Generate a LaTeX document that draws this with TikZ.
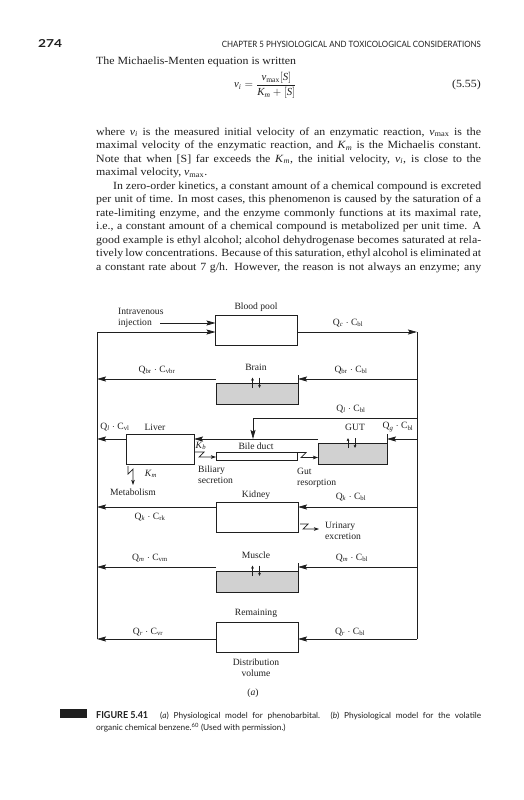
\documentclass[tikz,border=0pt]{standalone}
\usepackage{fontspec}
\usepackage{amsmath}
\setmainfont{Liberation Serif}
\newfontfamily\bodyfont{Liberation Serif}[FakeStretch=1.08]
\newfontfamily\capfont{Lato}
\usetikzlibrary{arrows.meta,calc}
\newcommand{\QdotC}[2]{Q\textsubscript{#1}\kern2.5pt$\cdot$\kern2.5pt C\textsubscript{#2}}
\newcommand{\vsub}[1]{\textit{v}\textsubscript{#1}}
\newcommand{\Km}{\textit{K}\textsubscript{\textit{m}}}
\definecolor{shade}{gray}{0.82}
\definecolor{ink}{gray}{0.12}
\begin{document}
\begin{tikzpicture}[x=1pt,y=-1pt,
  box/.style={draw=ink, line width=0.7pt, inner sep=0pt, outer sep=0pt, minimum width=82pt, minimum height=30pt},
  lbl/.style={inner sep=0pt, font=\fontsize{9.6}{10.8}\selectfont, text=ink},
  ln/.style={draw=ink, line width=0.7pt},
  arr/.style={draw=ink, line width=0.7pt, -{Stealth[length=9pt,width=5pt,inset=1.5pt]}},
  zig/.style={draw=ink, line width=0.7pt, -{Stealth[length=5pt,width=3.5pt,inset=1pt]}},
  ud/.style={draw=ink, line width=0.6pt, -{Stealth[length=3pt,width=2.6pt,inset=0.5pt]}},
  bodyline/.style={anchor=base west, inner sep=0pt, font=\bodyfont\fontsize{11}{13}\selectfont, text=ink},
]
\useasboundingbox (0,0) rectangle (524,800);

% ---------- header ----------
\node[anchor=base west, inner sep=0pt, text=ink] (pagenum) at (38,48)
  {\resizebox{24pt}{8pt}{\capfont\bfseries 274}};
\node[anchor=base east, inner sep=0pt, text=ink] (runhead) at (481,48)
  {\resizebox{259pt}{6.3pt}{\capfont CHAPTER 5 PHYSIOLOGICAL AND TOXICOLOGICAL CONSIDERATIONS}};

% ---------- text ----------
\node[bodyline] (t0) at (96,65) {The Michaelis-Menten equation is written};
\node[anchor=base west, inner sep=0pt, font=\fontsize{10.8}{12}\selectfont, text=ink] (eq) at (234,88)
  {$\textit{v}_{\textit{i}} = \dfrac{\textit{v}_{\textup{max}}[\textit{S}]}{\textit{K}_{\textit{m}}+[\textit{S}]}$};
\node[bodyline, anchor=base east] (eqno) at (481,87) {(5.55)};

\node[bodyline] (p1) at (96,135) {\hbox to 385pt{where \vsub{\textit{i}} is the measured initial velocity of an enzymatic reaction, \vsub{max} is the}};
\node[bodyline] (p2) at (96,148.5) {\hbox to 385pt{maximal velocity of the enzymatic reaction, and \Km{} is the Michaelis constant.}};
\node[bodyline] (p3) at (96,162) {\hbox to 385pt{Note that when [S] far exceeds the \Km, the initial velocity, \vsub{\textit{i}}, is close to the}};
\node[bodyline] (p4) at (96,175.5) {maximal velocity, \vsub{max}.};
\node[bodyline] (p5) at (96,189) {\hbox to 385pt{\hspace*{17pt}In zero-order kinetics, a constant amount of a chemical compound is excreted}};
\node[bodyline] (p6) at (96,202.5) {\hbox to 385pt{per unit of time. In most cases, this phenomenon is caused by the saturation of a}};
\node[bodyline] (p7) at (96,216) {\hbox to 385pt{rate-limiting enzyme, and the enzyme commonly functions at its maximal rate,}};
\node[bodyline] (p8) at (96,229.5) {\hbox to 385pt{i.e., a constant amount of a chemical compound is metabolized per unit time. A}};
\node[bodyline] (p9) at (96,243) {\hbox to 385pt{good example is ethyl alcohol; alcohol dehydrogenase becomes saturated at rela-}};
\node[bodyline] (p10) at (96,256.5) {\hbox to 385pt{tively low concentrations. Because of this saturation, ethyl alcohol is eliminated at}};
\node[bodyline] (p11) at (96,270) {\hbox to 385pt{a constant rate about 7 g/h. However, the reason is not always an enzyme; any}};

% ---------- diagram boxes ----------
\node[box] (blood) at (256.5,330) {};
\node[box, fill=shade, minimum height=29pt] (brain) at (257,389.5) {};
\node[box, minimum width=68pt] (liver) at (160,449) {};
\node[box, minimum width=81pt, minimum height=8pt] (bile) at (256.5,456) {};
\node[box, fill=shade, minimum width=69pt] (gut) at (352.5,449) {};
\node[box] (kidney) at (257,517) {};
\node[box, fill=shade, minimum height=29pt] (muscle) at (257,577.5) {};
\node[box] (remain) at (257,637) {};

% white top strips + dividers of the shaded boxes
\foreach \b/\h in {brain/8, gut/9, muscle/8}{
  \fill[white] ([shift={(0.4,0.4)}]\b.north west) rectangle ([shift={(-0.4,\h)}]\b.north east);
  \draw[ln] ([shift={(0,\h)}]\b.north west) -- ([shift={(0,\h)}]\b.north east);
}

% ---------- main rails ----------
\coordinate (Ltop) at (97,332);
\coordinate (Lbot) at (97,639);
\coordinate (Rtop) at (417,332);
\coordinate (Rbot) at (417,639);
\coordinate (ivstart) at (160,323);
\coordinate (bloodin1) at (blood.west |- ivstart);
\coordinate (bloodin2) at (blood.west |- Ltop);
\coordinate (bloodout) at (blood.east |- Rtop);

\draw[arr] (ivstart) -- (bloodin1);
\draw[arr] (Lbot) -- (Ltop) -- (bloodin2);
\draw[arr] (bloodout) -- (Rtop);
\draw[ln] (Rtop) -- (Rbot);

% brain row (y=379)
\coordinate (brR) at (417,379);
\coordinate (brL) at (97,379);
\draw[arr] (brR) -- (brain.east |- brR);
\draw[arr] (brain.west |- brR) -- (brL);

% hepatic artery (y=418)
\coordinate (haR) at (417,418);
\coordinate (haK) at (253,418);
\coordinate (haT) at (253,439);
\draw[arr] (haR) -- (haK) -- (haT);

% liver/gut row (y=439)
\coordinate (lvR) at (417,439);
\coordinate (lvL) at (97,439);
\draw[arr] (lvR) -- (gut.east |- lvR);
\draw[arr] (gut.west |- lvR) -- (liver.east |- lvR);
\draw[arr] (liver.west |- lvR) -- (lvL);

% kidney row (y=507)
\coordinate (kdR) at (417,507);
\coordinate (kdL) at (97,507);
\draw[arr] (kdR) -- (kidney.east |- kdR);
\draw[arr] (kidney.west |- kdR) -- (kdL);

% muscle row (y=567)
\coordinate (msR) at (417,567);
\coordinate (msL) at (97,567);
\draw[arr] (msR) -- (muscle.east |- msR);
\draw[arr] (muscle.west |- msR) -- (msL);

% remaining row (y=639)
\draw[arr] (Rbot) -- (remain.east |- Rbot);
\draw[arr] (remain.west |- Rbot) -- (Lbot);

% ---------- zigzag arrows ----------
\coordinate (bsA) at (195,452);
\coordinate (bsB) at (216,457);
\draw[zig] (bsA) -- ++(9,0) -- ++(-5,5) -- (bsB);
\coordinate (grA) at (298,452.5);
\coordinate (grB) at (318,457.5);
\draw[zig] (grA) -- ++(8,0) -- ++(-5,5) -- (grB);
\coordinate (ueA) at (300,524);
\coordinate (ueB) at (319,529);
\draw[zig] (ueA) -- ++(8,0) -- ++(-5,5) -- (ueB);
\coordinate (mbA) at (128,466);
\coordinate (mbB) at (133,485);
\draw[zig] (mbA) -- ++(0,8) -- ++(5,-5) -- (mbB);

% ---------- exchange arrows ----------
\draw[ud] (252.5,388) -- (252.5,377.5);
\draw[ud] (259.5,377.5) -- (259.5,388);
\draw[ud] (348,448) -- (348,438);
\draw[ud] (355,438) -- (355,448);
\draw[ud] (252.5,576) -- (252.5,565.5);
\draw[ud] (259.5,565.5) -- (259.5,576);

% ---------- labels ----------
\node[lbl] (lblood) at (256,307) {Blood pool};
\node[lbl, anchor=west, align=left] (liv) at (118,318) {Intravenous\\injection};
\node[lbl] (lqc) at (348,323) {\QdotC{\textit{c}}{bl}};
\node[lbl] (lbrain) at (256,367) {Brain};
\node[lbl] (lqbrv) at (157,370) {\QdotC{br}{vbr}};
\node[lbl] (lqbr) at (351,370) {\QdotC{br}{bl}};
\node[lbl] (lql) at (351,409) {\QdotC{\textit{l}}{bl}};
\node[lbl] (lqlv) at (115,427) {\QdotC{\textit{l}}{vl}};
\node[lbl] (lliver) at (155,427) {Liver};
\node[lbl] (lgut) at (355,427) {GUT};
\node[lbl] (lqg) at (398,427) {\QdotC{\textit{g}}{bl}};
\node[lbl] (lbile) at (256,446) {Bile duct};
\node[lbl] (lkb) at (201,446) {\textit{K}\textsubscript{\textit{b}}};
\node[lbl, anchor=west, align=left] (lbs) at (198,475) {Biliary\\secretion};
\node[lbl, anchor=west, align=left] (lgr) at (297,477.5) {Gut\\resorption};
\node[lbl] (lkm) at (151,474) {\Km};
\node[lbl] (lmet) at (133,492) {Metabolism};
\node[lbl] (lkid) at (256,495) {Kidney};
\node[lbl] (lqk) at (351,497) {\QdotC{\textit{k}}{bl}};
\node[lbl] (lqkr) at (150,517) {\QdotC{\textit{k}}{rk}};
\node[lbl, anchor=west, align=left] (lue) at (325,530.5) {Urinary\\excretion};
\node[lbl] (lmus) at (256,555) {Muscle};
\node[lbl] (lqmv) at (150,558) {\QdotC{\textit{m}}{vm}};
\node[lbl] (lqm) at (352,558) {\QdotC{\textit{m}}{bl}};
\node[lbl] (lrem) at (256,613) {Remaining};
\node[lbl] (lqrv) at (148,632) {\QdotC{\textit{r}}{vr}};
\node[lbl] (lqr) at (350,632) {\QdotC{\textit{r}}{bl}};
\node[lbl, align=center] (ldv) at (256,667.5) {Distribution\\volume};
\node[lbl] (la) at (253,693) {(\textit{a})};

% ---------- caption ----------
\fill[ink] (60,709) rectangle (87,718);
\node[anchor=base west, inner sep=0pt, text=ink] (figlab) at (96,718)
  {\resizebox{52pt}{7pt}{\capfont\bfseries FIGURE 5.41}};
\node[anchor=base west, inner sep=0pt, text=ink, font=\capfont\fontsize{8.3}{9}\selectfont] (cap1) at (160,718)
  {\hbox to 321pt{(\textit{a}) Physiological model for phenobarbital. (\textit{b}) Physiological model for the volatile}};
\node[anchor=base west, inner sep=0pt, text=ink, font=\capfont\fontsize{8.3}{9}\selectfont] (cap2) at (96,730)
  {organic chemical benzene.\textsuperscript{60} (Used with permission.)};
\end{tikzpicture}
\end{document}
